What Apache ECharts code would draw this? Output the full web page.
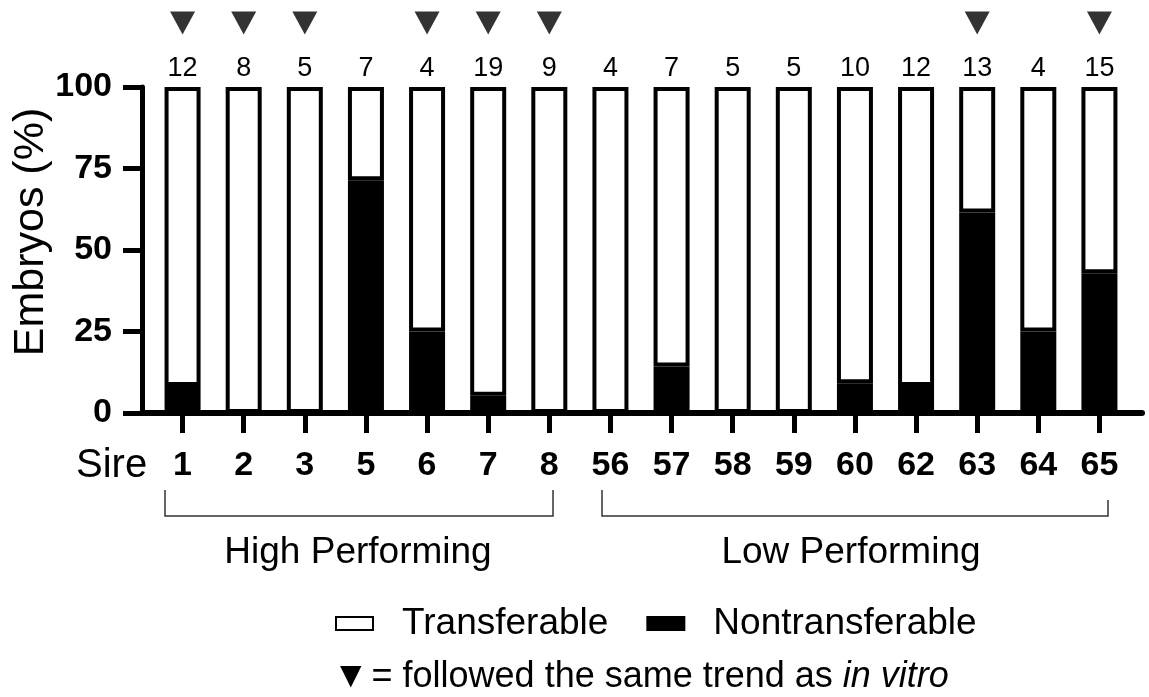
<!DOCTYPE html>
<html>
<head>
<meta charset="utf-8">
<script src="https://cdn.jsdelivr.net/npm/echarts@6/dist/echarts.min.js"></script>
<style>
  html, body { margin: 0; padding: 0; background: #fff; }
  #chart { width: 1149px; height: 697px; }
</style>
</head>
<body>
<div id="chart"></div>
<script>
var sires = ['1', '2', '3', '5', '6', '7', '8', '56', '57', '58', '59', '60', '62', '63', '64', '65'];
var counts = [12, 8, 5, 7, 4, 19, 9, 4, 7, 5, 5, 10, 12, 13, 4, 15];
var nontransferable = [8.3, 0, 0, 71.4, 25, 5.3, 0, 0, 14.3, 0, 0, 9.1, 8.3, 61.5, 25, 42.9];
var transferable = [91.7, 100, 100, 28.6, 75, 94.7, 100, 100, 85.7, 100, 100, 90.9, 91.7, 38.5, 75, 57.1];
var sameTrend = [1, 1, 1, 0, 1, 1, 1, 0, 0, 0, 0, 0, 0, 1, 0, 1];
var yTicks = [0, 25, 50, 75, 100];

var FONT = '"Liberation Sans", Arial, sans-serif';
var TRI_Y = 119.6; // triangle row, above the 100% line

var triData = [];
sameTrend.forEach(function (m, i) {
  if (m) triData.push([sires[i], TRI_Y]);
});

var myChart = echarts.init(document.getElementById('chart'), null, { renderer: 'canvas' });

var option = {
  backgroundColor: '#fff',
  animation: false,
  textStyle: { fontFamily: FONT, color: '#000' },
  grid: [
    { left: 152, right: 19, top: 87, bottom: 284 },
    { left: 142, right: 7, top: 87, bottom: 284 }
  ],
  legend: {
    left: 330,
    top: 600,
    itemWidth: 37,
    itemHeight: 13,
    itemGap: 38,
    icon: 'rect',
    textStyle: { fontSize: 37, fontFamily: FONT, color: '#000', padding: [0, 0, 0, 24] },
    data: ['Transferable', 'Nontransferable']
  },
  xAxis: [
    {
      type: 'category',
      gridIndex: 0,
      data: sires,
      axisLine: { show: false },
      axisTick: { show: true, alignWithLabel: true, length: 20, lineStyle: { width: 5, color: '#000' } },
      axisLabel: { fontSize: 34, fontWeight: 'bold', color: '#000', margin: 36, interval: 0 }
    },
    {
      type: 'value',
      gridIndex: 1,
      min: 0,
      max: 1,
      axisLine: { show: true, lineStyle: { width: 6, color: '#000' } },
      axisTick: { show: false },
      axisLabel: { show: false },
      splitLine: { show: false }
    }
  ],
  yAxis: [
    {
      type: 'value',
      gridIndex: 0,
      min: 0,
      max: 100,
      show: false
    },
    {
      type: 'value',
      gridIndex: 1,
      min: 0,
      max: 100,
      interval: 25,
      axisLine: { show: true, lineStyle: { width: 5, color: '#000' } },
      axisTick: { show: true, length: 19, lineStyle: { width: 5, color: '#000' } },
      axisLabel: {
        fontSize: 34, fontWeight: 'bold', color: '#000', margin: 30,
        formatter: function (v) { return yTicks.indexOf(v) >= 0 ? String(v) : ''; }
      },
      splitLine: { show: false }
    }
  ],
  series: [
    {
      name: 'Nontransferable',
      type: 'bar',
      stack: 'embryos',
      xAxisIndex: 0,
      yAxisIndex: 0,
      barWidth: 36,
      data: nontransferable,
      itemStyle: { color: '#000', borderColor: '#000', borderWidth: 4 }
    },
    {
      name: 'Transferable',
      type: 'bar',
      stack: 'embryos',
      xAxisIndex: 0,
      yAxisIndex: 0,
      barWidth: 36,
      data: transferable,
      itemStyle: { color: '#fff', borderColor: '#000', borderWidth: 4 },
      label: {
        show: true,
        position: 'top',
        distance: 5,
        fontSize: 27,
        color: '#000',
        formatter: function (p) { return counts[p.dataIndex]; }
      }
    },
    {
      name: 'same trend',
      type: 'scatter',
      xAxisIndex: 0,
      yAxisIndex: 0,
      clip: false,
      symbol: 'triangle',
      symbolRotate: 180,
      symbolSize: [25, 23],
      itemStyle: { color: '#000' },
      data: triData
    }
  ],
  graphic: [
    {
      type: 'text', x: 31, y: 232, rotation: Math.PI / 2,
      style: { text: 'Embryos (%)', fontSize: 43, fontFamily: FONT, fill: '#000', align: 'center', verticalAlign: 'middle' }
    },
    {
      type: 'text', left: 76, top: 446,
      style: { text: 'Sire', fontSize: 40, fontFamily: FONT, fill: '#000' }
    },
    {
      type: 'polyline',
      shape: { points: [[165, 490], [165, 516], [553, 516], [553, 490]] },
      style: { stroke: '#333', lineWidth: 1.5, fill: null }
    },
    {
      type: 'polyline',
      shape: { points: [[602, 490], [602, 516], [1108, 516], [1108, 500]] },
      style: { stroke: '#333', lineWidth: 1.5, fill: null }
    },
    {
      type: 'text', x: 358, y: 553,
      style: { text: 'High Performing', fontSize: 37, fontFamily: FONT, fill: '#000', align: 'center', verticalAlign: 'middle' }
    },
    {
      type: 'text', x: 851, y: 553,
      style: { text: 'Low Performing', fontSize: 37, fontFamily: FONT, fill: '#000', align: 'center', verticalAlign: 'middle' }
    },
    {
      type: 'text', x: 340, y: 677,
      style: {
        text: '{t|▼} = followed the same trend as {i|in vitro}',
        fontSize: 36, fontFamily: FONT, fill: '#000', verticalAlign: 'middle',
        rich: {
          t: { fontSize: 28, fontFamily: '"DejaVu Sans", sans-serif', fill: '#000' },
          i: { fontSize: 36, fontStyle: 'italic', fontFamily: FONT, fill: '#000' }
        }
      }
    }
  ]
};

myChart.setOption(option);
window.addEventListener('resize', function () {
  myChart.resize();
});
</script>
</body>
</html>
